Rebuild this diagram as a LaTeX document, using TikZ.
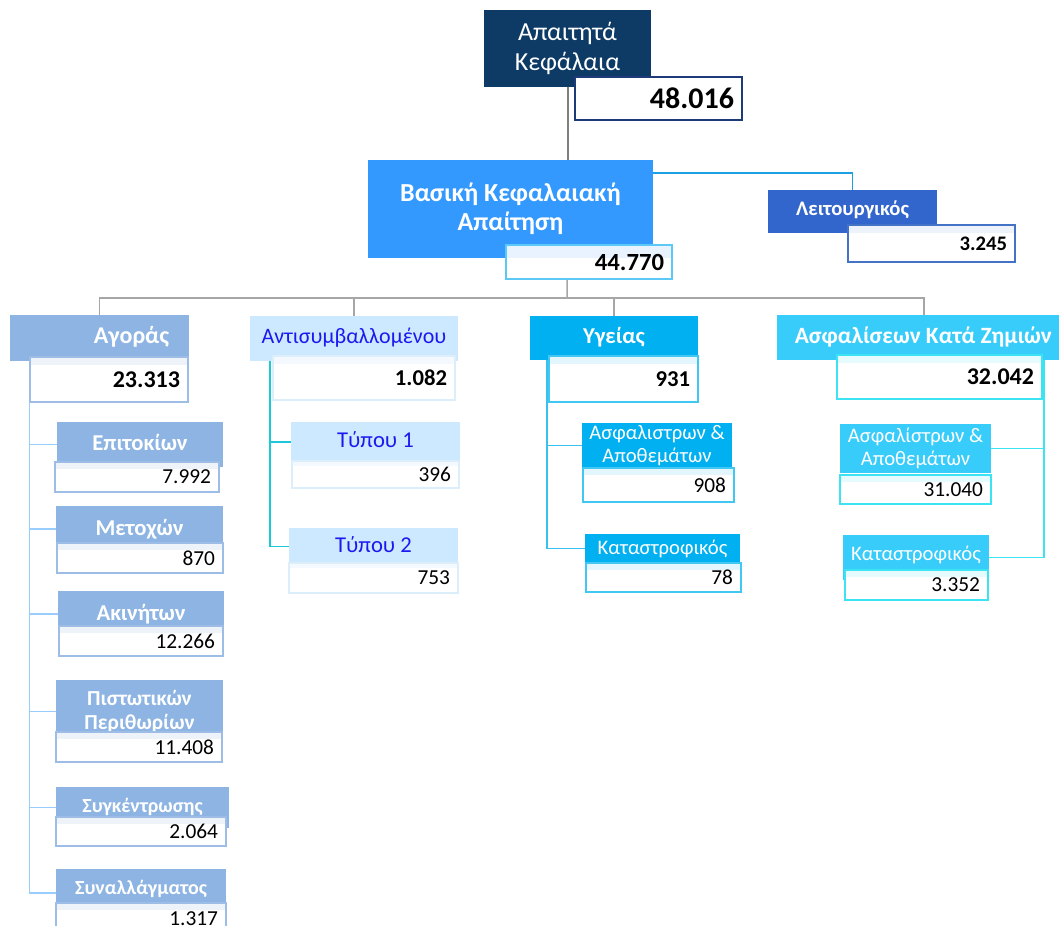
\documentclass[tikz,border=0pt]{standalone}
\usepackage{fontspec}
\setmainfont{Carlito}
\usetikzlibrary{backgrounds}
\definecolor{navy}{HTML}{0E3A66}
\definecolor{navyline}{HTML}{1F3A78}
\definecolor{vasblue}{HTML}{3399FF}
\definecolor{vasline}{HTML}{5BC8F5}
\definecolor{vasband}{HTML}{E8F3FF}
\definecolor{leitblue}{HTML}{3366CC}
\definecolor{leitline}{HTML}{4472C4}
\definecolor{leitband}{HTML}{EEF2FB}
\definecolor{linkblue}{HTML}{1BA1E2}
\definecolor{agblue}{HTML}{8DB4E2}
\definecolor{agline}{HTML}{9DBDE6}
\definecolor{agband}{HTML}{EEF3FA}
\definecolor{agspine}{HTML}{99CCFF}
\definecolor{antfill}{HTML}{CCE9FF}
\definecolor{anttext}{HTML}{1A1AF0}
\definecolor{antline}{HTML}{DDEEFB}
\definecolor{antband}{HTML}{F3F9FF}
\definecolor{antspine}{HTML}{1BC8D8}
\definecolor{ygblue}{HTML}{00B0F0}
\definecolor{ygline}{HTML}{40C8F2}
\definecolor{ygband}{HTML}{E3F6FD}
\definecolor{ygspine}{HTML}{38C0EE}
\definecolor{asblue}{HTML}{38CCFB}
\definecolor{asline}{HTML}{3BE3F3}
\definecolor{asband}{HTML}{E6FBFE}
\definecolor{busgray}{HTML}{A6A6A6}
\definecolor{topgray}{HTML}{7F7F7F}
\newcommand{\lblnode}[7]{%
  \pgfmathsetlengthmacro\myBW{(#4-#2)*0.75pt}%
  \pgfmathsetlengthmacro\myBH{(#5-#3)*0.75pt}%
  \node[lblbox,#6,minimum width=\myBW,minimum height=\myBH] (#1) at ({(#2+#4)/2},{(#3+#5)/2}) {#7};}
\newcommand{\valnode}[7]{%
  \pgfmathsetlengthmacro\myBW{(#4-#2)*0.75pt}%
  \pgfmathsetlengthmacro\myBH{(#5-#3)*0.75pt}%
  \pgfmathsetlengthmacro\myTW{(#4-#2)*0.75pt-12pt}%
  \node[valbox,#6,minimum width=\myBW,minimum height=\myBH,text width=\myTW] (#1) at ({(#2+#4)/2},{(#3+#5)/2}) {#7};}
\begin{document}
\begin{tikzpicture}[x=0.75pt,y=-0.75pt,
  lblbox/.style={inner sep=0pt, align=center, text=white},
  valbox/.style={draw, fill=white, inner xsep=6pt, inner ysep=0pt, align=right, line width=1pt, text=black},
  band/.style args={#1/#2}{path picture={\fill[#1] (path picture bounding box.north west) rectangle ([yshift=-#2]path picture bounding box.north east);}},
  fTop/.style={font=\fontsize{19.5}{22}\selectfont},
  fVas/.style={font=\fontsize{19.5}{22}\selectfont\bfseries},
  fLbl/.style={font=\fontsize{17.5}{20}\selectfont\bfseries},
  fSub/.style={font=\fontsize{15}{17}\selectfont\bfseries},
  fSubL/.style={font=\fontsize{17}{19}\selectfont\bfseries},
  fReg/.style={font=\fontsize{16.5}{19}\selectfont},
  fRegS/.style={font=\fontsize{15.5}{17.5}\selectfont},
  fBig/.style={font=\fontsize{22.5}{25}\selectfont\bfseries},
  fValB/.style={font=\fontsize{18}{20}\selectfont\bfseries},
  fVal/.style={font=\fontsize{16}{18}\selectfont},
  topline/.style={draw=topgray, line width=1.5pt},
  busline/.style={draw=busgray, line width=1.1pt},
  spine/.style={line width=1.2pt}
]
\useasboundingbox (0,0) rectangle (1059,925);

% top
\lblnode{top}{484}{10}{651}{87}{fill=navy,fTop}{Απαιτητά\\Κεφάλαια}
\valnode{topval}{575}{77}{742}{120}{draw=navyline,fBig}{48.016}

% Basic requirement
\lblnode{vas}{368}{160}{653}{258}{fill=vasblue,fVas}{Βασική Κεφαλαιακή\\Απαίτηση}
\valnode{vasval}{506}{245}{672}{279}{draw=vasline,band={vasband/10pt},font=\fontsize{18.5}{20}\selectfont\bfseries}{44.770}

% operational
\lblnode{leit}{768}{190}{937}{233}{fill=leitblue,font=\fontsize{15.5}{18}\selectfont\bfseries,text depth=5pt}{Λειτουργικός}
\valnode{leitval}{848}{225}{1015}{262}{draw=leitline,band={leitband/6pt},font=\fontsize{15.5}{18}\selectfont\bfseries}{3.245}

% market
\lblnode{ag}{10}{315}{189}{361}{fill=agblue,font=\fontsize{18}{20}\selectfont\bfseries,text depth=4pt}{\hspace*{48pt}Αγοράς}
\valnode{agval}{30}{357}{188}{402}{draw=agline,band={agband/6pt},fValB}{23.313}
\lblnode{e1}{57}{422}{223}{467}{fill=agblue,fSubL,text depth=3pt}{Επιτοκίων}
\valnode{e1v}{55}{462}{219}{492}{draw=agline,band={agband/5pt},fVal}{7.992}
\lblnode{e2}{56}{506}{223}{552}{fill=agblue,fSubL,text depth=3pt}{Μετοχών}
\valnode{e2v}{57}{543}{223}{573}{draw=agline,band={agband/5pt},fVal}{870}
\lblnode{e3}{58}{591}{224}{637}{fill=agblue,fSubL,text depth=3pt}{Ακινήτων}
\valnode{e3v}{59}{626}{223}{656}{draw=agline,band={agband/5pt},fVal}{12.266}
\lblnode{e4}{56}{680}{223}{743}{fill=agblue,font=\fontsize{16}{18}\selectfont\bfseries}{Πιστωτικών\\Περιθωρίων}
\valnode{e4v}{56}{732}{222}{762}{draw=agline,band={agband/5pt},fVal}{11.408}
\lblnode{e5}{56}{787}{229}{828}{fill=agblue,fSub,text depth=3pt}{Συγκέντρωσης}
\valnode{e5v}{56}{817}{226}{846}{draw=agline,band={agband/5pt},fVal}{2.064}
\lblnode{e6}{56}{869}{226}{917}{fill=agblue,fSub,text depth=8pt}{Συναλλάγματος}
\valnode{e6v}{56}{903}{226}{935}{draw=agline,band={agband/5pt},fVal}{1.317}

% counterparty
\lblnode{ant}{250}{316}{458}{361}{fill=antfill,text=anttext,fReg,text depth=4pt}{Αντισυμβαλλομένου}
\valnode{antval}{273}{356}{455}{400}{draw=antline,band={antband/6pt},font=\fontsize{17}{19}\selectfont\bfseries}{1.082}
\lblnode{t1}{291}{422}{460}{462}{fill=antfill,text=anttext,font=\fontsize{17}{19}\selectfont,text depth=3pt}{Τύπου 1}
\valnode{t1v}{292}{461}{459}{488}{draw=antline,band={antband/4pt},fVal}{396}
\lblnode{t2}{289}{528}{458}{565}{fill=antfill,text=anttext,font=\fontsize{17}{19}\selectfont,text depth=3pt}{Τύπου 2}
\valnode{t2v}{289}{563}{458}{593}{draw=antline,band={antband/4pt},fVal}{753}

% health
\lblnode{yg}{530}{316}{698}{360}{fill=ygblue,font=\fontsize{17}{19}\selectfont\bfseries,text depth=4pt}{Υγείας}
\valnode{ygval}{549}{356}{698}{402}{draw=ygline,band={ygband/6pt},font=\fontsize{17}{19}\selectfont\bfseries}{931}
\lblnode{h1}{582}{423}{732}{468}{fill=ygblue,fRegS}{Ασφαλιστρων \&\\Αποθεμάτων}
\valnode{h1v}{583}{468}{734}{502}{draw=ygline,band={ygband/5pt},fVal}{908}
\lblnode{h2}{585}{534}{740}{563}{fill=ygblue,fRegS}{Καταστροφικός}
\valnode{h2v}{586}{563}{741}{592}{draw=ygline,band={ygband/5pt},fVal}{78}

% non-life
\lblnode{as}{777}{315}{1059}{360}{fill=asblue,fLbl,text depth=4pt}{\hspace*{8pt}Ασφαλίσεων Κατά Ζημιών}
\valnode{asval}{837}{355}{1042}{399}{draw=asline,band={asband/6pt},fValB}{32.042}
\lblnode{z1}{840}{424}{991}{473}{fill=asblue,fRegS}{Ασφαλίστρων \&\\Αποθεμάτων}
\valnode{z1v}{840}{475}{991}{504}{draw=asline,band={asband/5pt},fVal}{31.040}
\lblnode{z2}{843}{535}{989}{580}{fill=asblue,fRegS,text depth=7pt}{Καταστροφικός}
\valnode{z2v}{845}{570}{988}{600}{draw=asline,band={asband/5pt},fVal}{3.352}

\coordinate (bus) at (567,298);
\coordinate (antsp) at (270,361);
\coordinate (ygsp) at (547,360);
\coordinate (assp) at (1044,360);

\begin{scope}[on background layer]
  \draw[topline] (top.south) -- (top.south |- vas.north);
  \draw[busline] (top.south |- vas.south) -- (bus);
  \draw[busline] (bus) -| (ag.north);
  \draw[busline] (bus) -| (ant.north);
  \draw[busline] (bus) -| (yg.north);
  \draw[busline] (bus) -| ([xshift=4.5pt]as.north);
  \draw[draw=linkblue, line width=1.2pt] ([yshift=-9.75pt]vas.north east) -| (leit.north);
  \foreach \c in {e1,e2,e3,e4,e5,e6}
    \draw[spine, draw=agspine] (agval.south west) |- (\c.west);
  \foreach \c in {t1,t2}
    \draw[spine, draw=antspine] (antsp) |- (\c.west);
  \foreach \c in {h1,h2}
    \draw[spine, draw=ygspine] (ygsp) |- (\c.west);
  \foreach \c in {z1,z2}
    \draw[spine, draw=asline] (assp) |- (\c.east);
\end{scope}
\end{tikzpicture}
\end{document}
